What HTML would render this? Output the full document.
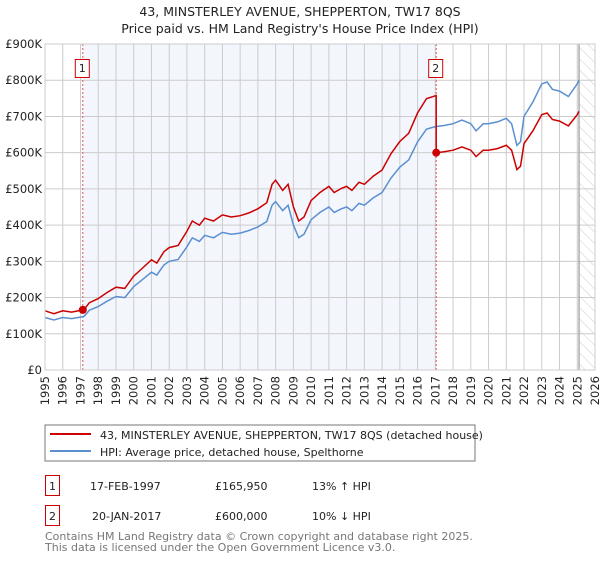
<!DOCTYPE html>
<html><head><meta charset="utf-8"><style>
body{margin:0;background:#fff;width:600px;height:560px;overflow:hidden;font-family:"DejaVu Sans","Liberation Sans",sans-serif}
svg text{font-family:"DejaVu Sans","Liberation Sans",sans-serif}
</style></head><body>
<svg id="chart" width="600" height="560">
<defs><pattern id="hatch" width="8" height="8" patternUnits="userSpaceOnUse" patternTransform="rotate(-45)"><line x1="0" y1="0" x2="0" y2="8" stroke="#ccc" stroke-width="1"/></pattern></defs>
<text x="300" y="16" text-anchor="middle" font-size="12.5" fill="#222">43, MINSTERLEY AVENUE, SHEPPERTON, TW17 8QS</text>
<text x="300" y="33" text-anchor="middle" font-size="12.5" fill="#222">Price paid vs. HM Land Registry's House Price Index (HPI)</text>
<g id="plot"></g>
<rect x="45" y="425" width="430" height="36" fill="#fff" stroke="#777"/>
<line x1="50" y1="434" x2="91" y2="434" stroke="#cc0000" stroke-width="2"/>
<text x="100" y="439" font-size="11" fill="#222">43, MINSTERLEY AVENUE, SHEPPERTON, TW17 8QS (detached house)</text>
<line x1="50" y1="451" x2="91" y2="451" stroke="#5b8fd0" stroke-width="2"/>
<text x="100" y="456" font-size="11" fill="#222">HPI: Average price, detached house, Spelthorne</text>
<g>
<rect x="45.5" y="475.5" width="14" height="20" fill="#fff" stroke="#cc0000"/>
<text x="52.5" y="490" text-anchor="middle" font-size="11" fill="#222">1</text>
<text x="90" y="490" font-size="11" fill="#222">17-FEB-1997</text>
<text x="215" y="490" font-size="11" fill="#222">£165,950</text>
<text x="312" y="490" font-size="11" fill="#222">13% ↑ HPI</text></g>
<g>
<rect x="45.5" y="505.5" width="14" height="20" fill="#fff" stroke="#cc0000"/>
<text x="52.5" y="520" text-anchor="middle" font-size="11" fill="#222">2</text>
<text x="92" y="520" font-size="11" fill="#222">20-JAN-2017</text>
<text x="215" y="520" font-size="11" fill="#222">£600,000</text>
<text x="312" y="520" font-size="11" fill="#222">10% ↓ HPI</text></g>
<text x="45" y="540" font-size="11" fill="#777">Contains HM Land Registry data © Crown copyright and database right 2025.</text>
<text x="45" y="551" font-size="11" fill="#777">This data is licensed under the Open Government Licence v3.0.</text>
</svg>
<script>
const hpiYears=[1995,1995.5,1996,1996.5,1997,1997.2,1997.5,1998,1998.5,1999,1999.5,2000,2000.5,2001,2001.3,2001.7,2002,2002.5,2003,2003.3,2003.7,2004,2004.5,2005,2005.5,2006,2006.5,2007,2007.5,2007.8,2008,2008.4,2008.7,2009,2009.3,2009.6,2010,2010.5,2011,2011.3,2011.7,2012,2012.3,2012.7,2013,2013.5,2014,2014.5,2015,2015.5,2016,2016.5,2017,2017.5,2018,2018.5,2019,2019.3,2019.7,2020,2020.5,2021,2021.3,2021.6,2021.8,2022,2022.5,2023,2023.3,2023.6,2024,2024.5,2025,2025.1];
const hpiValues=[145,138,145,142,146,148,165,175,190,203,200,230,250,270,262,290,300,305,340,365,355,372,365,380,375,378,385,395,410,455,465,440,455,400,365,375,415,435,450,435,445,450,440,460,455,475,490,530,560,580,630,665,672,675,680,690,680,660,680,680,685,695,680,620,630,700,740,790,795,775,770,755,790,800];
const saleYears=[1997.13,2017.05];
const salePrices=[165.95,600];
const saleLabels=["1","2"];
const yTicks=[0,100,200,300,400,500,600,700,800,900];
const yTickLabels=["£0","£100K","£200K","£300K","£400K","£500K","£600K","£700K","£800K","£900K"];
const xTicks=[1995,1996,1997,1998,1999,2000,2001,2002,2003,2004,2005,2006,2007,2008,2009,2010,2011,2012,2013,2014,2015,2016,2017,2018,2019,2020,2021,2022,2023,2024,2025,2026];
const NS="http://www.w3.org/2000/svg";
const L=45,R=595,T=44,B=370;
const x=v=>L+(v-1995)/(2026-1995)*(R-L);
const y=v=>B-v/900*(B-T);
const g=document.getElementById('plot');
function mk(t,a){const e=document.createElementNS(NS,t);for(const k in a)e.setAttribute(k,a[k]);g.appendChild(e);return e;}
const hpiAt=t=>{for(let i=0;i<hpiYears.length-1;i++){if(t<=hpiYears[i+1]){const f=(t-hpiYears[i])/(hpiYears[i+1]-hpiYears[i]);return hpiValues[i]+f*(hpiValues[i+1]-hpiValues[i]);}}return hpiValues[hpiValues.length-1];};
let e=mk('rect',{x:x(saleYears[0]),y:T,width:x(saleYears[1])-x(saleYears[0]),height:B-T,fill:'#f3f6fd'});


const lastYear=hpiYears[hpiYears.length-1];
e=mk('rect',{x:x(lastYear),y:T,width:R-x(lastYear),height:B-T,fill:'url(#hatch)'});


yTicks.forEach((v,i)=>{
 e=mk('line',{x1:L,x2:R,y1:y(v),y2:y(v),stroke:'#ccc','stroke-width':1});
 
 
 e=mk('text',{x:L-3,y:y(v)+4,'text-anchor':'end','font-size':11.5,fill:'#222'});e.textContent=yTickLabels[i];
 
 
});
xTicks.forEach(v=>{
 e=mk('line',{x1:x(v),x2:x(v),y1:T,y2:B,stroke:'#ccc','stroke-width':1});
 
 
 e=mk('text',{x:0,y:0,'text-anchor':'end','font-size':11.5,fill:'#222',transform:`translate(${x(v)+4},${B+6}) rotate(-90)`});e.textContent=v;
 
 
});
e=mk('line',{x1:x(lastYear),x2:x(lastYear),y1:T,y2:B,stroke:'#999','stroke-width':1.2});


saleYears.forEach((s,i)=>{
 e=mk('line',{x1:x(s),x2:x(s),y1:T,y2:B,stroke:'#e05555','stroke-width':1,'stroke-dasharray':'2,2'});
 
 
 e=mk('rect',{x:x(s)-7.5,y:59.5,width:14,height:18,fill:'#fff',stroke:'#cc0000'});
 
 
 e=mk('text',{x:x(s)-0.5,y:72,'text-anchor':'middle','font-size':11,fill:'#222'});e.textContent=saleLabels[i];
 
 
});
let d=hpiYears.map((t,i)=>(i?'L':'M')+x(t).toFixed(1)+','+y(hpiValues[i]).toFixed(1)).join('');
e=mk('path',{d:d,fill:'none',stroke:'#5b8fd0','stroke-width':1.5});


const pts=[];
hpiYears.forEach((t,i)=>{
 let k=0;for(let j=0;j<saleYears.length;j++)if(t>=saleYears[j])k=j;
 if(t<saleYears[1]&&i<hpiYears.length-1&&hpiYears[i+1]>saleYears[1]){pts.push([t,hpiValues[i]*salePrices[0]/hpiAt(saleYears[0])]);pts.push([saleYears[1],hpiAt(saleYears[1])*salePrices[0]/hpiAt(saleYears[0])]);pts.push([saleYears[1],salePrices[1]]);return;}
 pts.push([t,hpiValues[i]*salePrices[k]/hpiAt(saleYears[k])]);
});
d=pts.map((p,i)=>(i?'L':'M')+x(p[0]).toFixed(1)+','+y(p[1]).toFixed(1)).join('');
e=mk('path',{d:d,fill:'none',stroke:'#cc0000','stroke-width':1.5});


saleYears.forEach((s,i)=>{
 e=mk('circle',{cx:x(s),cy:y(salePrices[i]),r:4,fill:'#cc0000'});
 
 
});
e=mk('rect',{x:L,y:T,width:R-L,height:B-T,fill:'none',stroke:'#ccc'});


</script>
</body></html>
